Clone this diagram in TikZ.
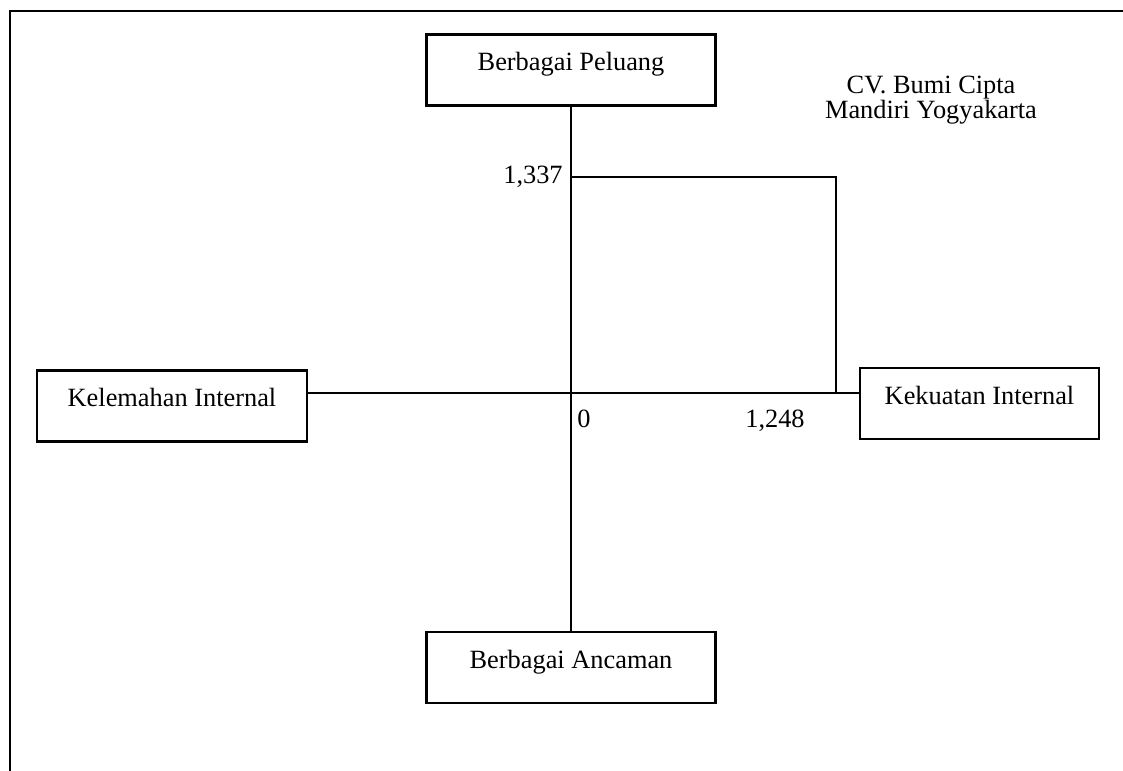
\documentclass[tikz,border=0pt]{standalone}
\usepackage{fontspec}
\setmainfont{Liberation Serif}
\usepackage{tikz}
\usetikzlibrary{positioning}
\tikzstyle{block} = [rectangle, draw, line width=1.2pt, inner sep=0pt, 
text height=0.72cm, text depth=0.70cm, text centered]
\tikzstyle{line} = [draw, line width=0.8pt]
\tikzstyle{angka} = [inner sep=0pt]

\begin{document}
\begin{tikzpicture}[node distance = 2cm, font=\fontsize{15}{18}\selectfont]
\useasboundingbox (0,0) rectangle (22.46,-15.42);
% Frame
\draw [line width=1.1pt] (0.2,-15.42) -- (0.2,-0.22) -- (22.46,-0.22);

% Place nodes
\coordinate (c0) at (11.42,-7.86);
\node [block, above of=c0, node distance=6.46cm, minimum width=5.78cm] (i1) {Berbagai Peluang};
\node [block, left of=c0, node distance=7.98cm, yshift=-0.26cm, minimum width=5.4cm] (i2) {Kelemahan Internal};
\node [block, right of=c0, node distance=8.17cm, yshift=-0.21cm, minimum width=4.78cm] (i3) {Kekuatan Internal};
\node [block, below of=c0, node distance=5.49cm, minimum width=5.78cm] (i4) {Berbagai Ancaman};
\coordinate [above of=c0, node distance=4.32cm] (p1);
\coordinate [right of=c0, node distance=5.3cm] (p2);

% Labels
\node [angka, anchor=east, xshift=-0.16cm] at (p1) (l1) {1,337};
\node [angka, anchor=north west, xshift=0.12cm, yshift=-0.34cm] at (c0) (l0) {0};
\node [angka, anchor=north east, xshift=-0.62cm, yshift=-0.34cm] at (p2) (l2) {1,248};
\node [angka, anchor=north, align=center, font=\fontsize{15}{14.3}\selectfont] at (18.62,-1.52) (judul) {CV. Bumi Cipta\\Mandiri Yogyakarta};

% Draw edges
\path [line] (i1) -- (i4);
\path [line] (i2.east |- c0) -- (i3.west |- c0);
\path [line] (p1) -| (p2);
\end{tikzpicture}
\end{document}
